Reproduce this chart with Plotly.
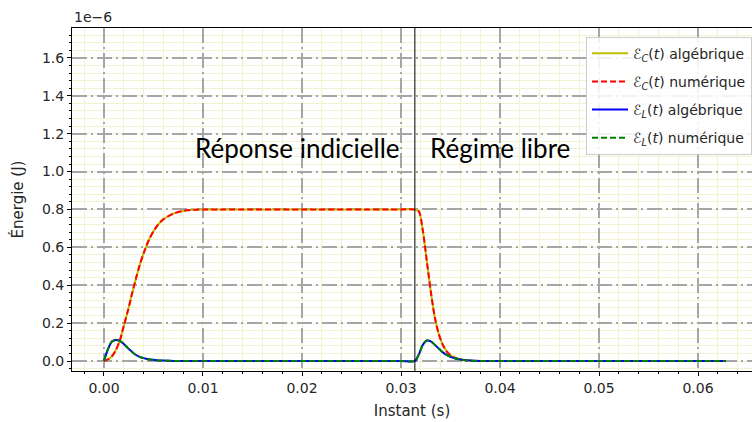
import plotly.graph_objects as go

# Time samples (s)
t = [0, 0.0004, 0.0008, 0.0012, 0.0016, 0.002, 0.0024, 0.0028, 0.0032, 0.0036,
     0.004, 0.0045, 0.005, 0.0055, 0.006, 0.007, 0.008, 0.009, 0.010, 0.012,
     0.015, 0.020, 0.025, 0.030, 0.0314, 0.0318, 0.0322, 0.0326, 0.033, 0.0334,
     0.0338, 0.0342, 0.0346, 0.035, 0.0355, 0.036, 0.037, 0.038, 0.040, 0.045,
     0.050, 0.055, 0.060, 0.0628]

# Energies in units of 1e-6 J
E_C = [0, 0.008, 0.025, 0.058, 0.108, 0.185, 0.262, 0.348, 0.430, 0.505,
       0.568, 0.635, 0.685, 0.722, 0.748, 0.778, 0.792, 0.798, 0.80, 0.80,
       0.80, 0.80, 0.80, 0.80, 0.80, 0.79, 0.69, 0.53, 0.37, 0.235,
       0.145, 0.088, 0.052, 0.030, 0.016, 0.008, 0.002, 0.0, 0.0, 0.0,
       0.0, 0.0, 0.0, 0.0]

E_L = [0, 0.062, 0.103, 0.111, 0.106, 0.090, 0.069, 0.050, 0.033, 0.022,
       0.015, 0.009, 0.006, 0.003, 0.002, 0.0005, 0.0, 0.0, 0.0, 0.0,
       0.0, 0.0, 0.0, 0.0, 0.0, 0.035, 0.085, 0.108, 0.104, 0.086,
       0.066, 0.047, 0.032, 0.022, 0.013, 0.008, 0.002, 0.0, 0.0, 0.0,
       0.0, 0.0, 0.0, 0.0]

T_switch = 0.0314

labels = ["<i>ℰ</i><sub><i>C</i></sub>(<i>t</i>) algébrique",
          "<i>ℰ</i><sub><i>C</i></sub>(<i>t</i>) numérique",
          "<i>ℰ</i><sub><i>L</i></sub>(<i>t</i>) algébrique",
          "<i>ℰ</i><sub><i>L</i></sub>(<i>t</i>) numérique"]

x_ticks = [0.00, 0.01, 0.02, 0.03, 0.04, 0.05, 0.06]
y_ticks = [0.0, 0.2, 0.4, 0.6, 0.8, 1.0, 1.2, 1.4, 1.6]

fig = go.Figure()
series = [
    (E_C, labels[0], "#bfbf00", "solid"),
    (E_C, labels[1], "#ff0000", "6px,3px"),
    (E_L, labels[2], "#0000ff", "solid"),
    (E_L, labels[3], "#008000", "6px,3px"),
]
for i, (y, name, col, dash) in enumerate(series):
    fig.add_trace(go.Scatter(
        x=t, y=y, mode="lines", name=name, legendgroup=str(i),
        line=dict(color=col, width=2, dash=dash, shape="spline", smoothing=0.8),
    ))

fig.add_shape(type="line", xref="x", yref="paper", x0=T_switch, x1=T_switch,
              y0=0, y1=1, line=dict(color="black", width=1))

fig.add_annotation(x=0.0195, y=1.125, xref="x", yref="y", text="Réponse indicielle",
                   showarrow=False, font=dict(family="Lato", size=26, color="black"))
fig.add_annotation(x=0.0400, y=1.125, xref="x", yref="y", text="Régime libre",
                   showarrow=False, font=dict(family="Lato", size=26, color="black"))
fig.add_annotation(x=0, y=1, xref="paper", yref="paper", text="1e−6",
                   xanchor="left", yanchor="bottom", showarrow=False, yshift=1,
                   font=dict(family="DejaVu Sans", size=14, color="#262626"))

minor_grid = "#f2f2d0"
major_grid = "#a6a6a6"
major_dash = "15px,4px,2px,4px"

fig.update_layout(
    width=752, height=422,
    margin=dict(l=72, r=0, t=28, b=51),
    paper_bgcolor="white", plot_bgcolor="white",
    font=dict(family="DejaVu Sans", size=14, color="#262626"),
    legend=dict(x=1, xanchor="right", y=0.975, yanchor="top",
                bgcolor="rgba(255,255,255,0.85)", bordercolor="#cccccc", borderwidth=1,
                font=dict(size=14), traceorder="grouped", tracegroupgap=7,
                itemwidth=36),
    xaxis=dict(
        range=[-0.00323, 0.06545], tickvals=x_ticks, tickformat=".2f",
        ticks="outside", ticklen=4, tickcolor="black",
        showline=True, linecolor="black", linewidth=1, mirror=True,
        showgrid=True, gridcolor=major_grid, gridwidth=2, griddash=major_dash,
        zeroline=False,
        minor=dict(dtick=0.002, tick0=0, ticks="outside", ticklen=2, tickcolor="black",
                   showgrid=True, gridcolor=minor_grid, gridwidth=1, griddash="solid"),
        title=dict(text="Instant (s)", standoff=10, font=dict(size=15)),
    ),
    yaxis=dict(
        range=[-0.0528, 1.758], tickvals=y_ticks, tickformat=".1f",
        ticks="outside", ticklen=4, tickcolor="black",
        showline=True, linecolor="black", linewidth=1, mirror=False,
        showgrid=True, gridcolor=major_grid, gridwidth=2, griddash=major_dash,
        zeroline=False,
        minor=dict(dtick=0.04, tick0=0, ticks="outside", ticklen=2, tickcolor="black",
                   showgrid=True, gridcolor=minor_grid, gridwidth=1, griddash="solid"),
        title=dict(text="Énergie (J)", standoff=14, font=dict(size=15)),
    ),
)

fig.write_html("out.html")
